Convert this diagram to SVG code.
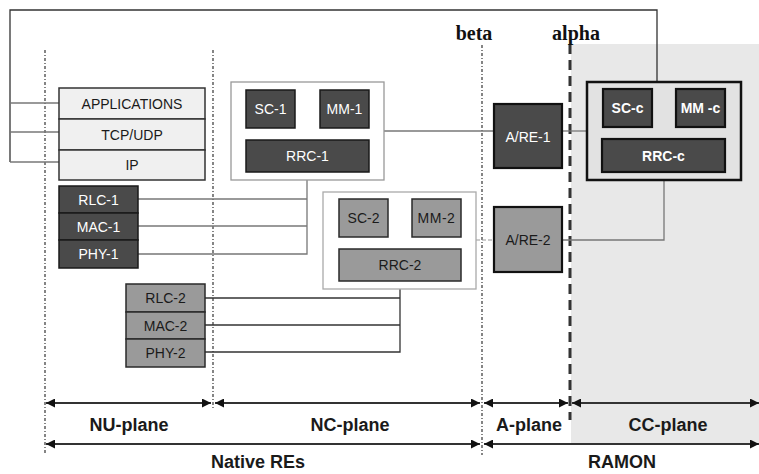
<svg xmlns="http://www.w3.org/2000/svg" width="759" height="474" viewBox="0 0 759 474">
<style>
text{font-family:"Liberation Sans",Arial,sans-serif;text-anchor:middle}
.t13{font-size:14px}
.w{fill:#ffffff}
.k{fill:#1a1a1a}
.b{font-weight:bold}
.dark{fill:#4a4a4a;stroke:#1a1a1a;stroke-width:1.5}
.mid{fill:#9a9a9a;stroke:#2a2a2a;stroke-width:1.5}
.light{fill:#f0f0f0;stroke:#333;stroke-width:1.5}
.conn{fill:none;stroke:#777;stroke-width:1.3}
.connd{fill:none;stroke:#333;stroke-width:1.3}
.dot{stroke:#444;stroke-width:1.3;stroke-dasharray:3 2 1 2;fill:none}
.arr{stroke:#333;stroke-width:2;fill:none;marker-start:url(#ah);marker-end:url(#ah)}
.lbl{font-size:18px;font-weight:bold;fill:#1a1a1a}
.greek{font-family:"Liberation Serif","Times New Roman",serif;font-size:20px;font-weight:bold;fill:#111}
</style>
<defs>
<marker id="ah" viewBox="0 0 10 10" refX="10" refY="5" markerWidth="9" markerHeight="9" markerUnits="userSpaceOnUse" orient="auto-start-reverse">
<path d="M0,0 L10,5 L0,10 z" fill="#111"/>
</marker>
</defs>
<rect x="0" y="0" width="759" height="474" fill="#ffffff"/>
<rect id="ramon-bg" x="571" y="44" width="188" height="399" fill="#e8e8e8"/>

<g id="plane-separators">
<line class="dot" x1="45" y1="50" x2="45" y2="455"/>
<line class="dot" x1="213" y1="50" x2="213" y2="410"/>
<line class="dot" x1="482" y1="45" x2="482" y2="455"/>
<line x1="570" y1="44" x2="570" y2="420" stroke="#333" stroke-width="3" stroke-dasharray="10 6"/>
<text class="greek" x="474" y="40">beta</text>
<text class="greek" x="576" y="40">alpha</text>
</g>

<g id="connectors">
<polyline class="connd" points="10,162 10,10 657,10 657,82"/>
<line class="conn" x1="10" y1="103" x2="59" y2="103"/>
<line class="conn" x1="10" y1="132" x2="59" y2="132"/>
<line class="conn" x1="10" y1="162" x2="59" y2="162"/>
<polyline class="conn" points="307,172 307,254 138,254"/>
<line class="conn" x1="138" y1="199" x2="307" y2="199"/>
<line class="conn" x1="138" y1="226" x2="307" y2="226"/>
<line class="conn" x1="384" y1="131" x2="494" y2="131"/>
<line class="conn" x1="562" y1="131" x2="587" y2="131"/>
<polyline class="conn" points="664,180 664,240 562,240"/>
<line x1="476" y1="240" x2="494" y2="240" stroke="#999" stroke-width="1.2" stroke-dasharray="4 2"/>
<polyline class="connd" points="400,289 400,352 205,352"/>
<line class="connd" x1="205" y1="298" x2="400" y2="298"/>
<line class="connd" x1="205" y1="325" x2="400" y2="325"/>
</g>

<g id="nu-stack">
<rect class="light" x="59" y="88" width="146" height="31"/>
<rect class="light" x="59" y="119" width="146" height="31"/>
<rect class="light" x="59" y="150" width="146" height="30"/>
<text class="k" font-size="14" x="132" y="108.5">APPLICATIONS</text>
<text class="k" font-size="14" x="132" y="139.5">TCP/UDP</text>
<text class="k" font-size="14" x="132" y="170">IP</text>
</g>

<g id="stack-1">
<rect class="dark" x="59" y="186" width="79" height="27"/>
<rect class="dark" x="59" y="213" width="79" height="27"/>
<rect class="dark" x="59" y="240" width="79" height="28"/>
<text class="t13 w" x="98.5" y="204.5">RLC-1</text>
<text class="t13 w" x="98.5" y="231.5">MAC-1</text>
<text class="t13 w" x="98.5" y="259">PHY-1</text>
</g>

<g id="stack-2">
<rect class="mid" x="126" y="284" width="79" height="28"/>
<rect class="mid" x="126" y="312" width="79" height="27"/>
<rect class="mid" x="126" y="339" width="79" height="28"/>
<text class="t13 k" x="165.5" y="303">RLC-2</text>
<text class="t13 k" x="165.5" y="330.5">MAC-2</text>
<text class="t13 k" x="165.5" y="358">PHY-2</text>
</g>

<g id="nc-1">
<rect x="231" y="82" width="153" height="98" fill="#ffffff" stroke="#999" stroke-width="1.3"/>
<rect class="dark" x="246" y="90" width="49" height="38"/>
<rect class="dark" x="320" y="90" width="49" height="38"/>
<rect class="dark" x="246" y="140" width="123" height="32"/>
<text class="t13 w" x="270.5" y="114">SC-1</text>
<text class="t13 w" x="344.5" y="114">MM-1</text>
<text class="t13 w" x="307.5" y="161">RRC-1</text>
</g>

<g id="nc-2">
<rect x="323" y="192" width="153" height="97" fill="#ffffff" stroke="#aaa" stroke-width="1.3"/>
<rect class="mid" x="339" y="199" width="49" height="38"/>
<rect class="mid" x="412" y="199" width="49" height="38"/>
<rect class="mid" x="339" y="249" width="122" height="32"/>
<text class="t13 k" x="363.5" y="223">SC-2</text>
<text class="t13 k" x="436.5" y="223" letter-spacing="0.5">MM-2</text>
<text class="t13 k" x="400" y="270">RRC-2</text>
</g>

<g id="are-1">
<rect x="494" y="104" width="68" height="64" fill="#4a4a4a" stroke="#111" stroke-width="2.2"/>
<text class="t13 w" x="528" y="141.5">A/RE-1</text>
</g>

<g id="are-2">
<rect x="494" y="207" width="68" height="65" fill="#9a9a9a" stroke="#111" stroke-width="2.2"/>
<text class="t13 k" x="528" y="244.5">A/RE-2</text>
</g>

<g id="cc">
<rect x="587" y="82" width="154" height="98" fill="#e2e2e2" stroke="#111" stroke-width="2.5"/>
<rect x="603" y="89" width="49" height="38" fill="#4a4a4a" stroke="#111" stroke-width="2.2"/>
<rect x="676" y="89" width="49" height="38" fill="#4a4a4a" stroke="#111" stroke-width="2.2"/>
<rect x="602" y="139" width="123" height="33" fill="#4a4a4a" stroke="#111" stroke-width="2.2"/>
<text class="t13 w b" x="627.5" y="113">SC-c</text>
<text class="t13 w b" x="700.5" y="113">MM -c</text>
<text class="t13 w b" x="663.5" y="160.5">RRC-c</text>
</g>

<g id="planes">
<line class="arr" x1="46" y1="403" x2="211" y2="403"/>
<line class="arr" x1="215" y1="403" x2="480" y2="403"/>
<line class="arr" x1="484" y1="403" x2="568" y2="403"/>
<line class="arr" x1="572" y1="403" x2="759" y2="403"/>
<line class="arr" x1="46" y1="444" x2="480" y2="444"/>
<line class="arr" x1="484" y1="444" x2="759" y2="444"/>
<text class="lbl" x="129" y="431">NU-plane</text>
<text class="lbl" x="350" y="431">NC-plane</text>
<text class="lbl" x="529" y="431">A-plane</text>
<text class="lbl" x="668" y="431">CC-plane</text>
<text class="lbl" font-size="17" x="258" y="468">Native REs</text>
<text class="lbl" font-size="17" x="622" y="468">RAMON</text>
</g>
</svg>
